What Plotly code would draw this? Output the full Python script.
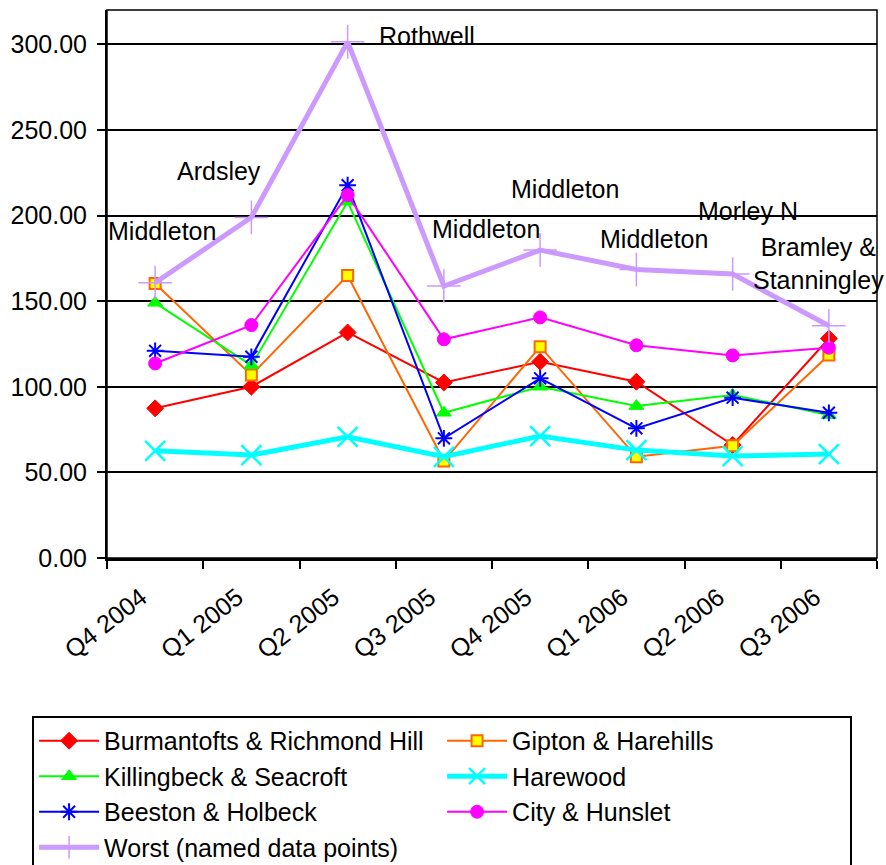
import plotly.graph_objects as go

# Quarterly categories
quarters = ["Q4 2004", "Q1 2005", "Q2 2005", "Q3 2005",
            "Q4 2005", "Q1 2006", "Q2 2006", "Q3 2006"]

# Series values per quarter
burmantofts = [87.4, 100.0, 131.7, 102.5, 114.6, 102.9, 66.0, 128.2]
gipton = [160.3, 106.8, 165.0, 56.6, 123.4, 59.1, 65.5, 118.5]
killingbeck = [149.0, 112.5, 208.0, 84.8, 100.0, 88.7, 95.2, 83.5]
harewood = [62.6, 60.1, 70.8, 59.1, 71.2, 63.0, 59.5, 60.7]
beeston = [121.0, 117.5, 217.7, 69.9, 104.9, 75.7, 93.6, 84.8]
city_hunslet = [113.6, 136.0, 211.9, 127.7, 140.5, 124.2, 118.3, 122.8]
worst = [160.7, 198.9, 301.4, 158.8, 179.8, 168.5, 165.8, 135.6]

# Ward named at each "worst" point
worst_names = ["Middleton", "Ardsley", "Rothwell", "Middleton",
               "Middleton", "Middleton", "Morley N", "Bramley &<br>Stanningley"]

# Pixel offsets of each name relative to its point (style only)
name_offsets = [(7, 52), (-32, 46), (79, 6), (42, 57),
                (25, 61), (18, 30), (15, 63), (-10, 62)]

y_ticks = [0, 50, 100, 150, 200, 250, 300]

FONT = "Liberation Sans, Arial, sans-serif"

series = [
    ("Burmantofts & Richmond Hill", burmantofts,
     dict(color="#FF0000", width=2),
     dict(symbol="diamond", size=13, color="#FF0000", line=dict(color="#FF0000", width=1))),
    ("Gipton & Harehills", gipton,
     dict(color="#FF6600", width=2),
     dict(symbol="square", size=11, color="#FFFF00", line=dict(color="#FF6600", width=2))),
    ("Killingbeck & Seacroft", killingbeck,
     dict(color="#00FF00", width=2),
     dict(symbol="triangle-up", size=13, color="#00FF00", line=dict(color="#00FF00", width=1))),
    ("Harewood", harewood,
     dict(color="#00FFFF", width=5),
     dict(symbol="x-thin-open", size=20, color="#00FFFF", line=dict(color="#00FFFF", width=2.5))),
    ("Beeston & Holbeck", beeston,
     dict(color="#0000FF", width=2),
     dict(symbol="asterisk-open", size=14, color="#0000FF", line=dict(color="#0000FF", width=2))),
    ("City & Hunslet", city_hunslet,
     dict(color="#FF00FF", width=2),
     dict(symbol="circle", size=13, color="#FF00FF", line=dict(color="#FF00FF", width=1))),
    ("Worst (named data points)", worst,
     dict(color="#CC99FF", width=5),
     dict(symbol="cross-thin-open", size=24, color="#CC99FF", line=dict(color="#CC99FF", width=1.5))),
]

fig = go.Figure()
for name, vals, line, marker in series:
    fig.add_trace(go.Scatter(
        x=quarters, y=vals, name=name, mode="lines+markers",
        line=line, marker=marker, cliponaxis=False,
    ))

# Ward names beside the "worst" points
for q, v, label, (dx, dy) in zip(quarters, worst, worst_names, name_offsets):
    fig.add_annotation(
        x=q, y=v, xref="x", yref="y", text=label, showarrow=False,
        xshift=dx, yshift=dy, font=dict(family=FONT, size=25, color="black"),
    )

# Plot frame (top and right edges)
fig.add_shape(type="rect", xref="paper", yref="paper", x0=0, x1=1, y0=0, y1=1,
              line=dict(color="black", width=1.5), layer="above")

fig.update_layout(
    width=886, height=865,
    margin=dict(l=107, r=9, t=10, b=307, autoexpand=False),
    paper_bgcolor="white", plot_bgcolor="white",
    font=dict(family=FONT, size=25, color="black"),
    showlegend=True,
    legend=dict(
        orientation="h", x=-0.0973, y=-0.2883, xanchor="left", yanchor="top",
        bgcolor="white", bordercolor="black", borderwidth=2,
        entrywidth=333, entrywidthmode="pixels",
        font=dict(family=FONT, size=25, color="black"),
        itemwidth=60, tracegroupgap=0,
    ),
    xaxis=dict(
        type="category", categoryorder="array", categoryarray=quarters,
        range=[-0.5, 7.5], tickson="boundaries", ticks="outside", ticklen=8,
        tickwidth=2, tickcolor="black", tickangle=-38,
        ticklabelshift=-14, ticklabelstandoff=12,
        showline=True, linecolor="black", linewidth=3, showgrid=False,
        tickfont=dict(family=FONT, size=25, color="black"),
    ),
    yaxis=dict(
        range=[0, 320], tickvals=y_ticks, tickformat=".2f",
        ticks="outside", ticklen=8, tickwidth=2, tickcolor="black",
        ticklabelstandoff=5,
        showline=True, linecolor="black", linewidth=2,
        showgrid=True, gridcolor="black", gridwidth=1.5, zeroline=False,
        tickfont=dict(family=FONT, size=25, color="black"),
    ),
)

fig.write_html("out.html")
